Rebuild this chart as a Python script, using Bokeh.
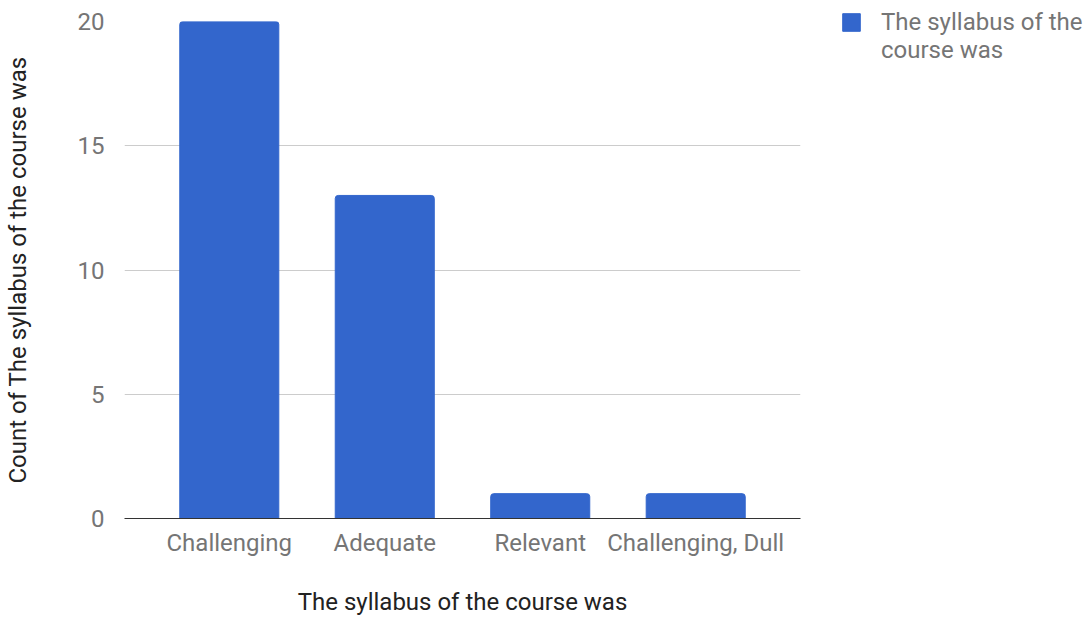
from bokeh.plotting import figure
from bokeh.models import ColumnDataSource, FactorRange, Range1d, Legend, LegendItem
from bokeh.embed import file_html
from bokeh.resources import INLINE

categories = ["Challenging", "Adequate", "Relevant", "Challenging, Dull"]
counts = [20, 13, 1, 1]
y_ticks = [0, 5, 10, 15, 20]
legend_lines = ["The syllabus of the", "course was"]

src = ColumnDataSource(dict(cat=categories, count=counts))

p = figure(frame_width=676, frame_height=497, output_backend="svg", toolbar_location=None,
           x_range=FactorRange(factors=categories, range_padding=0.174, range_padding_units="absolute"),
           y_range=Range1d(0, 20),
           min_border_left=120, min_border_right=288, min_border_top=21, min_border_bottom=60)
p.outline_line_color = None
r = p.vbar(x="cat", top="count", width=0.637, source=src, color="#3366CC",
           border_radius=(3, 3, 0, 0))
dummy = p.vbar(x=[], top=[], width=0.5, fill_alpha=0, line_alpha=0)

FONT = "Roboto"
FS = "24px"
p.xgrid.grid_line_color = None
p.ygrid.grid_line_color = "#cccccc"
p.ygrid.ticker = y_ticks
p.yaxis.ticker = y_ticks
p.yaxis.axis_line_color = None
p.yaxis.major_tick_line_color = None
p.yaxis.minor_tick_line_color = None
p.yaxis.major_label_text_font = FONT
p.yaxis.major_label_text_font_size = FS
p.yaxis.major_label_text_color = "#757575"
p.yaxis.major_label_standoff = 14
p.yaxis.axis_label = "Count of The syllabus of the course was"
p.yaxis.axis_label_text_font = FONT
p.yaxis.axis_label_text_font_style = "normal"
p.yaxis.axis_label_text_font_size = FS
p.yaxis.axis_label_text_color = "#222222"
p.yaxis.axis_label_standoff = 43

p.xaxis.axis_line_color = "#333333"
p.xaxis.axis_line_width = 1
p.xaxis.major_tick_line_color = None
p.xaxis.minor_tick_line_color = None
p.xaxis.major_label_text_font = FONT
p.xaxis.major_label_text_font_size = FS
p.xaxis.major_label_text_color = "#757575"
p.xaxis.major_label_standoff = 4
p.xaxis.axis_label = "The syllabus of the course was"
p.xaxis.axis_label_text_font = FONT
p.xaxis.axis_label_text_font_style = "normal"
p.xaxis.axis_label_text_font_size = FS
p.xaxis.axis_label_text_color = "#222222"
p.xaxis.axis_label_standoff = 28

legend = Legend(items=[LegendItem(label=legend_lines[0], renderers=[r]),
                       LegendItem(label=legend_lines[1], renderers=[dummy])],
                location=(40, 454), border_line_color=None, background_fill_alpha=0,
                label_text_font=FONT, label_text_font_size=FS, label_text_color="#757575",
                glyph_width=22, glyph_height=22, label_standoff=19, padding=0, margin=0,
                spacing=0)
p.add_layout(legend, "right")

open("out.html", "w").write(file_html(p, INLINE))
